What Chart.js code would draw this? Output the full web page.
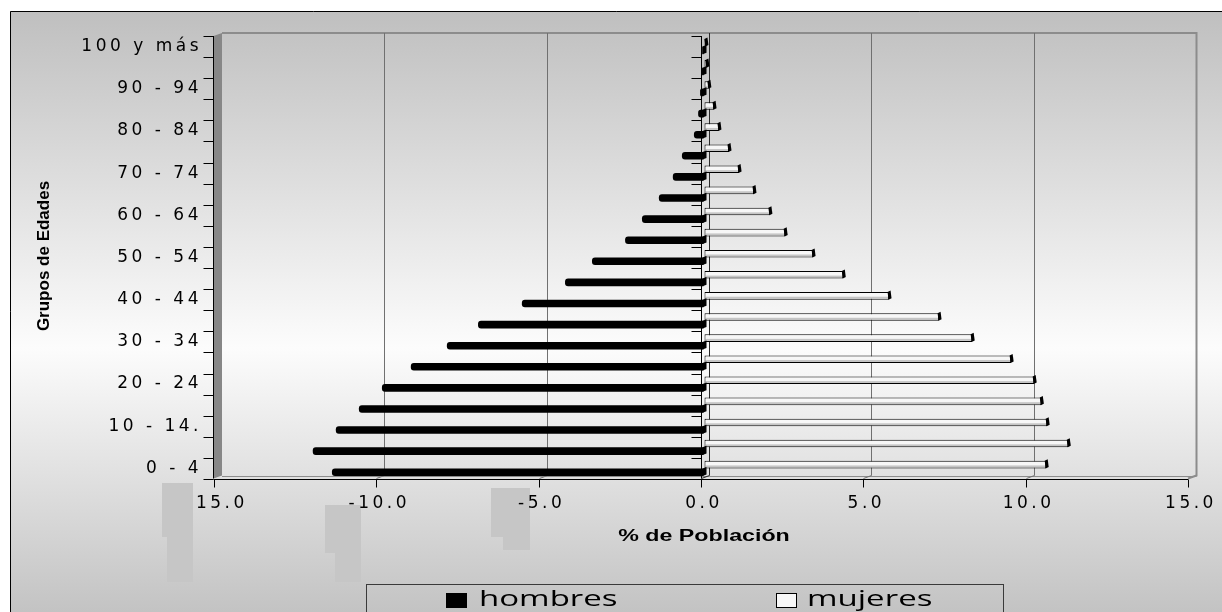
<!DOCTYPE html>
<html>
<head>
<meta charset="utf-8">
<script src="https://cdn.jsdelivr.net/npm/chart.js@4.4.1/dist/chart.umd.min.js"></script>
<style>
  html, body { margin: 0; padding: 0; background: #ffffff; }
  canvas { display: block; }
</style>
</head>
<body>
<canvas id="pyramid" width="1222" height="612"></canvas>
<script>
// Age groups, bottom to top
const categories = ['0 - 4', '5 - 9', '10 - 14.', '15 - 19', '20 - 24', '25 - 29', '30 - 34',
  '35 - 39', '40 - 44', '45 - 49', '50 - 54', '55 - 59', '60 - 64', '65 - 69', '70 - 74',
  '75 - 79', '80 - 84', '85 - 89', '90 - 94', '95 - 99', '100 y más'];

// Share of the population (%) per age group; men plotted to the left
const hombres = [-11.46, -12.05, -11.34, -10.63, -9.92, -9.03, -7.92, -6.96, -5.61, -4.28,
  -3.45, -2.43, -1.91, -1.39, -0.96, -0.68, -0.31, -0.18, -0.12, -0.06, -0.05];
const mujeres = [10.54, 11.22, 10.57, 10.39, 10.17, 9.46, 8.26, 7.24, 5.70, 4.29,
  3.36, 2.50, 2.03, 1.54, 1.08, 0.77, 0.46, 0.31, 0.15, 0.09, 0.06];

const xTickValues = [-15, -10, -5, 0, 5, 10, 15];
const seriesNames = ['hombres', 'mujeres'];
const xTitle = '% de Población';
const yTitle = 'Grupos de Edades';

// 3D box helpers: front plane sits a little left, back wall a little right of the bar plane
const frontX = (xs, v) => xs.getPixelForValue(v) - 3;
const backX = (xs, v) => xs.getPixelForValue(v) + 5;

// light grey patches below the value axis
const patchesUnder = [[325, 505, 36, 48], [335, 505, 26, 77], [491, 488, 27, 49], [503, 488, 27, 62]];
const patchesOver = [[162, 483, 31, 54], [167, 483, 26, 99]];

function stretchedText(ctx, text, x, y, font, sx, align) {
  ctx.save();
  ctx.translate(x, y);
  ctx.scale(sx, 1);
  ctx.font = font;
  ctx.textAlign = align;
  ctx.textBaseline = 'middle';
  ctx.fillStyle = '#000';
  ctx.fillText(text, 0, 0);
  ctx.restore();
}

const pyramidFrame = {
  id: 'pyramidFrame',
  beforeDraw(chart) {
    const { ctx, width, height } = chart;
    ctx.save();
    ctx.fillStyle = '#ffffff';
    ctx.fillRect(0, 0, width, height);
    const g = ctx.createLinearGradient(0, 11, 0, height);
    g.addColorStop(0, '#bfbfbf');
    g.addColorStop(0.56, '#fcfcfc');
    g.addColorStop(1, '#c3c3c3');
    ctx.fillStyle = g;
    ctx.fillRect(10, 11, width - 10, height - 11);
    ctx.strokeStyle = '#000';
    ctx.lineWidth = 1;
    ctx.beginPath();
    ctx.moveTo(10.5, height);
    ctx.lineTo(10.5, 11.5);
    ctx.lineTo(width, 11.5);
    ctx.stroke();
    ctx.restore();
    ctx.letterSpacing = '0px';
  },
  beforeDatasetsDraw(chart) {
    const { ctx } = chart;
    const xs = chart.scales.x, ys = chart.scales.y;
    const fTop = ys.top, fBot = ys.bottom - 0.5;
    const bTop = fTop - 3, bBot = fBot - 3;
    const fL = Math.round(frontX(xs, -15)) - 0.5, fR = frontX(xs, 15);
    const bL = backX(xs, -15), bR = Math.round(backX(xs, 15)) + 0.5;
    ctx.save();
    // side wall
    ctx.fillStyle = '#878787';
    ctx.beginPath();
    ctx.moveTo(fL, fTop); ctx.lineTo(bL, bTop); ctx.lineTo(bL, bBot); ctx.lineTo(fL, fBot);
    ctx.closePath();
    ctx.fill();
    // back wall edges
    ctx.strokeStyle = '#8c8c8c';
    ctx.lineWidth = 2;
    ctx.beginPath();
    ctx.moveTo(bL, bTop); ctx.lineTo(bR, bTop); ctx.lineTo(bR, bBot); ctx.lineTo(fR, fBot);
    ctx.stroke();
    ctx.lineWidth = 1;
    ctx.beginPath();
    ctx.moveTo(bL, Math.round(bBot) + 0.5); ctx.lineTo(bR, Math.round(bBot) + 0.5);
    ctx.stroke();
    // vertical gridlines on the back wall, running down the floor to the front
    xTickValues.forEach(v => {
      if (Math.abs(v) === 15) return;
      const bx = Math.round(backX(xs, v)) + 0.5, fx = Math.round(frontX(xs, v)) + 0.5;
      ctx.strokeStyle = v === 0 ? '#2a2a2a' : '#707070';
      ctx.beginPath();
      ctx.moveTo(bx, bTop); ctx.lineTo(bx, bBot); ctx.lineTo(fx, fBot);
      ctx.stroke();
    });
    // category axis lines (left edge and zero) with tick marks between groups
    ctx.strokeStyle = '#000';
    const band = (ys.bottom - ys.top) / categories.length;
    [fL, Math.round(frontX(xs, 0)) + 0.5].forEach(ax => {
      ctx.beginPath();
      ctx.moveTo(ax, fTop); ctx.lineTo(ax, fBot);
      ctx.stroke();
      for (let k = 0; k <= categories.length; k++) {
        const y = Math.round(ys.getPixelForValue(k) + band / 2) + 0.5;
        ctx.beginPath();
        ctx.moveTo(ax - 10, y); ctx.lineTo(ax, y);
        ctx.stroke();
      }
    });
    // value axis line and ticks
    const ay = Math.round(fBot) + 0.5;
    ctx.beginPath();
    ctx.moveTo(fL, ay); ctx.lineTo(fR, ay);
    ctx.stroke();
    xTickValues.forEach(v => {
      const x = Math.round(frontX(xs, v)) + 0.5;
      ctx.beginPath();
      ctx.moveTo(x, ay); ctx.lineTo(x, ay + 8);
      ctx.stroke();
    });
    ctx.restore();
  },
  afterDatasetsDraw(chart) {
    const { ctx } = chart;
    ctx.save();
    chart.data.datasets.forEach((ds, di) => {
      const meta = chart.getDatasetMeta(di);
      meta.data.forEach(bar => {
        const { x, y, base, height } = bar.getProps(['x', 'y', 'base', 'height'], true);
        const t = y - height / 2, b = y + height / 2;
        ctx.fillStyle = '#000';
        if (ds.label === 'mujeres') {
          const w = x - base - 2;
          if (w > 0) {
            ctx.fillStyle = 'rgba(0,0,0,0.2)';
            ctx.fillRect(base + 1, b - 3, w, 2);
          }
          ctx.fillStyle = '#000';
          ctx.beginPath();
          ctx.moveTo(x - 1.5, t); ctx.lineTo(x + 1.5, t - 1.5);
          ctx.lineTo(x + 2.5, b - 1.5); ctx.lineTo(x - 0.5, b);
          ctx.closePath();
          ctx.fill();
        } else {
          ctx.beginPath();
          ctx.moveTo(base - 1, t); ctx.lineTo(base + 3, t - 1.5);
          ctx.lineTo(base + 3, b - 1.5); ctx.lineTo(base - 1, b);
          ctx.closePath();
          ctx.fill();
        }
      });
    });
    ctx.fillStyle = '#c6c6c6';
    patchesUnder.forEach(([x, y, w, h]) => ctx.fillRect(x, y, w, h));
    ctx.restore();
    // tick labels are drawn next, widely spaced
    ctx.letterSpacing = '3.5px';
  },
  afterDraw(chart) {
    const { ctx } = chart;
    const xs = chart.scales.x;
    ctx.letterSpacing = '0px';
    ctx.save();
    ctx.fillStyle = '#c6c6c6';
    patchesOver.forEach(([x, y, w, h]) => ctx.fillRect(x, y, w, h));

    // axis titles
    stretchedText(ctx, xTitle, (xs.left + xs.right) / 2, 537, 'bold 16px "Liberation Sans"', 1.45, 'center');
    ctx.save();
    ctx.translate(44, 256);
    ctx.rotate(-Math.PI / 2);
    ctx.font = 'bold 17px "Liberation Sans"';
    ctx.textAlign = 'center';
    ctx.textBaseline = 'middle';
    ctx.fillStyle = '#000';
    ctx.fillText(yTitle, 0, 0);
    ctx.restore();

    // legend box
    ctx.strokeStyle = '#3a3a3a';
    ctx.lineWidth = 1;
    ctx.strokeRect(366.5, 584.5, 637, 60);
    const keyX = [446, 776], textX = [479, 807];
    chart.data.datasets.forEach((ds, i) => {
      ctx.fillStyle = ds.backgroundColor;
      ctx.fillRect(keyX[i], 593, 21, 15);
      ctx.strokeStyle = '#000';
      ctx.strokeRect(keyX[i] + 0.5, 593.5, 20, 14);
      stretchedText(ctx, ds.label, textX[i], 600, '22px "Open Sans"', 1.5, 'left');
    });
    ctx.restore();
  }
};

const labelFont = { family: '"DejaVu Sans"', size: 17 };

new Chart(document.getElementById('pyramid'), {
  type: 'bar',
  data: {
    labels: categories,
    datasets: [
      {
        label: seriesNames[0],
        data: hombres,
        backgroundColor: '#000000',
        borderWidth: 0,
        borderSkipped: false,
        borderRadius: { topLeft: 3, bottomLeft: 3, topRight: 0, bottomRight: 0 },
        order: 1,
        categoryPercentage: 0.72,
        barPercentage: 1.0
      },
      {
        label: seriesNames[1],
        data: mujeres,
        backgroundColor: '#f7f7f7',
        borderColor: '#000000',
        borderWidth: 1,
        borderSkipped: false,
        order: 0,
        categoryPercentage: 0.72,
        barPercentage: 1.0
      }
    ]
  },
  options: {
    indexAxis: 'y',
    responsive: false,
    animation: false,
    devicePixelRatio: 1,
    layout: { padding: { top: 36, right: 31, bottom: 0, left: 0 } },
    plugins: {
      legend: { display: false },
      tooltip: { enabled: false }
    },
    scales: {
      x: {
        type: 'linear',
        min: -15,
        max: 15,
        afterFit: s => { s.height = 133; },
        afterBuildTicks: s => { s.ticks = xTickValues.map(v => ({ value: v })); },
        grid: { display: true, drawOnChartArea: false, color: 'transparent', tickLength: 8 },
        border: { display: false },
        ticks: {
          z: 1,
          autoSkip: false,
          maxRotation: 0,
          padding: 6,
          color: '#000',
          font: labelFont,
          callback: v => Number(v).toFixed(1)
        }
      },
      y: {
        type: 'category',
        reverse: true,
        afterFit: s => { s.width = 217; },
        grid: { display: true, drawOnChartArea: false, color: 'transparent', tickLength: 10 },
        border: { display: false },
        ticks: {
          z: 1,
          autoSkip: false,
          padding: 5,
          color: '#000',
          font: labelFont,
          callback: (v, i) => (i % 2 === 0 ? categories[i] : '')
        }
      }
    }
  },
  plugins: [pyramidFrame]
});
</script>
</body>
</html>
